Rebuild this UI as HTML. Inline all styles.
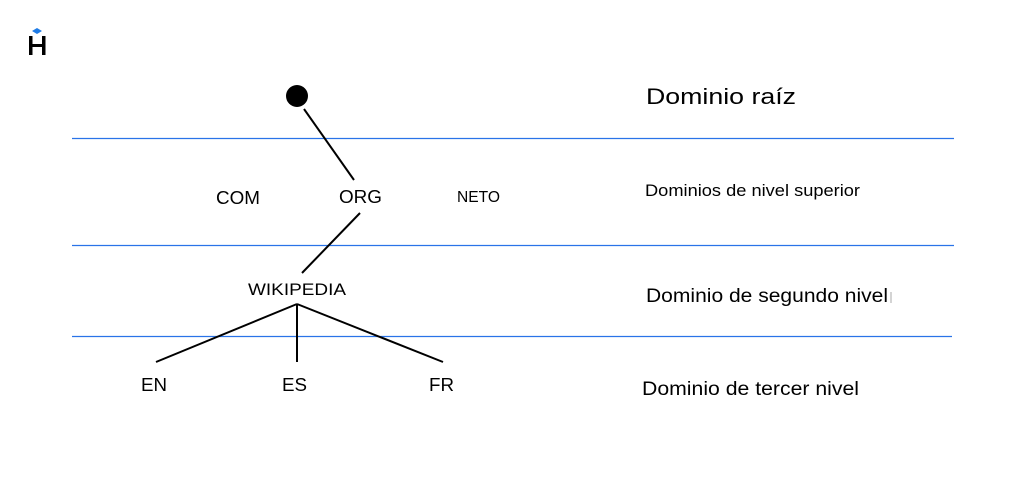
<!DOCTYPE html>
<html><head><meta charset="utf-8"><style>
html,body{margin:0;padding:0;background:#fff;width:1024px;height:490px;overflow:hidden}
svg{display:block}
text{font-family:"Liberation Sans",sans-serif;fill:#000}
</style></head><body>
<svg width="1024" height="490" viewBox="0 0 1024 490" xmlns="http://www.w3.org/2000/svg">
<polygon points="37,28 42,31 37,34 32,31" fill="#1e7be6"/>
<rect x="29" y="36" width="3.5" height="19" fill="#000"/>
<rect x="42" y="36" width="3.5" height="19" fill="#000"/>
<rect x="29" y="44" width="16" height="3" fill="#000"/>
<g stroke="#2a73e8" stroke-width="1.3">
<line x1="72" y1="138.5" x2="954" y2="138.5"/>
<line x1="72" y1="245.5" x2="954" y2="245.5"/>
<line x1="72" y1="336.5" x2="952" y2="336.5"/>
</g>
<circle cx="297" cy="96" r="11" fill="#000"/>
<g stroke="#000" stroke-width="2">
<line x1="304" y1="109" x2="354" y2="180"/>
<line x1="360" y1="213" x2="302" y2="273"/>
<line x1="297" y1="304" x2="156" y2="362"/>
<line x1="297" y1="304" x2="297" y2="362"/>
<line x1="297" y1="304" x2="443" y2="362"/>
</g>
<text x="216" y="204" font-size="18" textLength="44" lengthAdjust="spacingAndGlyphs">COM</text>
<text x="339" y="203" font-size="18" textLength="43" lengthAdjust="spacingAndGlyphs">ORG</text>
<text x="457" y="202" font-size="16" textLength="43" lengthAdjust="spacingAndGlyphs">NETO</text>
<text x="248" y="295" font-size="17" textLength="98" lengthAdjust="spacingAndGlyphs">WIKIPEDIA</text>
<text x="141" y="391" font-size="18" textLength="26" lengthAdjust="spacingAndGlyphs">EN</text>
<text x="282" y="391" font-size="18" textLength="25" lengthAdjust="spacingAndGlyphs">ES</text>
<text x="429" y="391" font-size="18" textLength="25" lengthAdjust="spacingAndGlyphs">FR</text>
<text x="646" y="104" font-size="22" textLength="150" lengthAdjust="spacingAndGlyphs">Dominio raíz</text>
<text x="645" y="196" font-size="17" textLength="215" lengthAdjust="spacingAndGlyphs">Dominios de nivel superior</text>
<text x="646" y="302" font-size="19" textLength="242" lengthAdjust="spacingAndGlyphs">Dominio de segundo nivel</text>
<line x1="891" y1="292" x2="891" y2="303" stroke="#aaa" stroke-width="1"/>
<text x="642" y="395" font-size="19" textLength="217" lengthAdjust="spacingAndGlyphs">Dominio de tercer nivel</text>
</svg>
</body></html>
